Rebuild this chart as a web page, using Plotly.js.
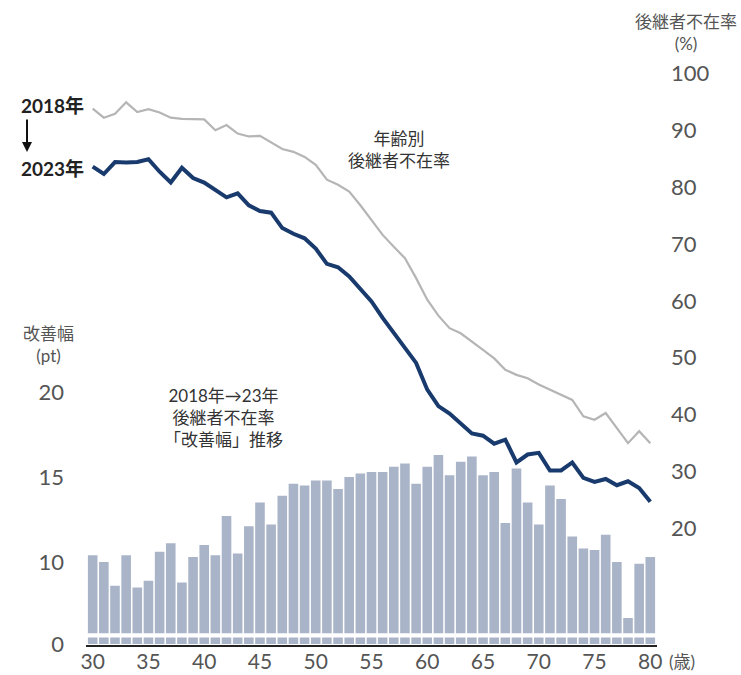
<!DOCTYPE html>
<html>
<head>
<meta charset="utf-8">
<script src="https://cdn.plot.ly/plotly-3.0.1.min.js"></script>
<style>
  html, body { margin: 0; padding: 0; background: #fff; }
  #chart { width: 741px; height: 675px; }
</style>
</head>
<body>
<div id="chart"></div>
<script>
// 年齢（歳）
const ages = [];
for (let a = 30; a <= 80; a++) ages.push(a);

// 年齢別 後継者不在率（%） 2018年
const rate2018 = [
  93.8, 92.2, 92.9, 94.9, 93.2, 93.7, 93.1, 92.2, 92.0, 92.0,
  91.9, 90.0, 90.9, 89.4, 88.9, 89.0, 87.8, 86.7, 86.2, 85.3,
  83.9, 81.3, 80.4, 79.2, 76.8, 74.2, 71.6, 69.5, 67.5, 64.0,
  60.2, 57.4, 55.2, 54.3, 52.9, 51.4, 49.9, 47.9, 47.0, 46.4,
  45.3, 44.4, 43.5, 42.6, 39.7, 39.1, 40.3, 37.7, 35.0, 37.1,
  35.0
];

// 年齢別 後継者不在率（%） 2023年
const rate2023 = [
  83.6, 82.3, 84.4, 84.3, 84.4, 84.9, 82.7, 80.8, 83.4, 81.6,
  80.8, 79.6, 78.2, 78.9, 76.8, 75.8, 75.5, 72.8, 71.8, 71.0,
  69.2, 66.5, 65.9, 64.3, 62.2, 59.9, 57.0, 54.3, 51.7, 49.1,
  44.4, 41.5, 40.2, 38.5, 36.7, 36.3, 34.9, 35.6, 31.6, 33.0,
  33.3, 30.2, 30.2, 31.6, 28.9, 28.2, 28.7, 27.6, 28.3, 27.1,
  24.7
];

// 2018年→23年 改善幅（pt）
const improvement = [
  10.4, 10.0, 8.6, 10.4, 8.5, 8.9, 10.6, 11.1, 8.8, 10.3,
  11.0, 10.4, 12.7, 10.5, 12.1, 13.5, 12.2, 13.9, 14.6, 14.5,
  14.8, 14.8, 14.3, 15.0, 15.2, 15.3, 15.3, 15.6, 15.8, 14.6,
  15.6, 16.3, 15.1, 15.9, 16.2, 15.1, 15.3, 12.3, 15.5, 13.5,
  12.2, 14.5, 13.7, 11.5, 10.8, 10.7, 11.6, 10.0, 6.7, 9.9,
  10.3
];

// 軸目盛り
const ageTicks = [30, 35, 40, 45, 50, 55, 60, 65, 70, 75, 80];
const improvementTicks = [10, 15, 20];
const improvementBaseTick = [0];
const rateTicks = [20, 30, 40, 50, 60, 70, 80, 90, 100];

const FONT = 'Lato, "Noto Sans CJK JP", sans-serif';
const BAR_COLOR = '#a9b4c8';
const NAVY = '#183a6d';
const GREY_LINE = '#b5b5b5';
const TICK_COLOR = '#555555';
const TEXT_COLOR = '#333333';

const traces = [
  // 改善幅（省略線より上の部分）
  {
    type: 'bar', x: ages, y: improvement, xaxis: 'x', yaxis: 'y',
    marker: { color: BAR_COLOR, line: { width: 0 } },
    hoverinfo: 'skip', showlegend: false
  },
  // 改善幅（省略線より下の根元部分）
  {
    type: 'bar', x: ages, y: improvement, xaxis: 'x', yaxis: 'y3',
    marker: { color: BAR_COLOR, line: { width: 0 } },
    hoverinfo: 'skip', showlegend: false
  },
  // 2018年
  {
    type: 'scatter', mode: 'lines', x: ages, y: rate2018, xaxis: 'x', yaxis: 'y2',
    line: { color: GREY_LINE, width: 2.2 },
    hoverinfo: 'skip', showlegend: false
  },
  // 2023年
  {
    type: 'scatter', mode: 'lines', x: ages, y: rate2023, xaxis: 'x', yaxis: 'y2',
    line: { color: NAVY, width: 4 },
    hoverinfo: 'skip', showlegend: false
  }
];

// plot area: x 86..657, y 40..646 (px)
const L = 86, R = 657, T = 40, B = 646;
const W = R - L, H = B - T;
const px = v => (v - L) / W;
const py = v => (B - v) / H;

const tickFont = { family: FONT, size: 22, color: TICK_COLOR };

const layout = {
  width: 741, height: 675,
  margin: { l: L, r: 741 - R, t: T, b: 675 - B, pad: 0 },
  paper_bgcolor: '#ffffff', plot_bgcolor: '#ffffff',
  barmode: 'overlay', bargap: 0.14,
  font: { family: FONT, color: TEXT_COLOR },
  xaxis: {
    range: [29.4, 80.6], tickvals: ageTicks, ticks: '',
    showline: true, linecolor: '#222222', linewidth: 2,
    showgrid: false, zeroline: false,
    anchor: 'free', position: 0,
    tickfont: { family: FONT, size: 21, color: TICK_COLOR },
    ticklabelstandoff: -3
  },
  yaxis: {
    domain: [py(633.3), 1], range: [5.806, 40.706],
    tickvals: improvementTicks, ticks: '',
    showline: false, showgrid: false, zeroline: false,
    tickfont: tickFont, ticklabelstandoff: 21
  },
  yaxis3: {
    domain: [py(644), py(637.5)], range: [0, 1],
    tickvals: improvementBaseTick, ticks: '',
    showline: false, showgrid: false, zeroline: false,
    tickfont: tickFont, ticklabelstandoff: 21, anchor: 'x'
  },
  yaxis2: {
    overlaying: 'y', side: 'right', anchor: 'x',
    range: [1.58, 105.85], tickvals: rateTicks, ticks: '',
    showline: false, showgrid: false, zeroline: false,
    tickfont: tickFont, ticklabelstandoff: 13
  },
  annotations: [
    {
      text: '後継者不在率<br>(%)', xref: 'paper', yref: 'paper',
      x: px(686), y: py(32), xanchor: 'center', yanchor: 'middle',
      showarrow: false, font: { family: FONT, size: 17, color: TICK_COLOR }
    },
    {
      text: '改善幅<br>(pt)', xref: 'paper', yref: 'paper',
      x: px(48), y: py(345), xanchor: 'center', yanchor: 'middle',
      showarrow: false, font: { family: FONT, size: 17, color: TICK_COLOR }
    },
    {
      text: '年齢別<br>後継者不在率', xref: 'paper', yref: 'paper',
      x: px(399), y: py(149), xanchor: 'center', yanchor: 'middle',
      showarrow: false, font: { family: FONT, size: 17, color: TEXT_COLOR }
    },
    {
      text: '2018年→23年<br>後継者不在率<br>「改善幅」推移', xref: 'paper', yref: 'paper',
      x: px(223), y: py(417.5), xanchor: 'center', yanchor: 'middle',
      showarrow: false, font: { family: FONT, size: 17, color: TEXT_COLOR }
    },
    {
      text: '<b>2018年</b>', xref: 'paper', yref: 'paper',
      x: px(52), y: py(105), xanchor: 'center', yanchor: 'middle',
      showarrow: false, font: { family: FONT, size: 19, color: '#222222' }
    },
    {
      text: '<b>2023年</b>', xref: 'paper', yref: 'paper',
      x: px(52), y: py(168), xanchor: 'center', yanchor: 'middle',
      showarrow: false, font: { family: FONT, size: 19, color: '#222222' }
    },
    {
      text: '', xref: 'paper', yref: 'paper',
      x: px(27), y: py(152), ax: 0, ay: -34,
      showarrow: true, arrowhead: 2, arrowsize: 1, arrowwidth: 2, arrowcolor: '#111111'
    },
    {
      text: '(歳)', xref: 'paper', yref: 'paper',
      x: px(667), y: py(661), xanchor: 'left', yanchor: 'middle',
      showarrow: false, font: { family: FONT, size: 17, color: TICK_COLOR }
    }
  ]
};

Plotly.newPlot('chart', traces, layout, { displayModeBar: false, staticPlot: true });
</script>
</body>
</html>
